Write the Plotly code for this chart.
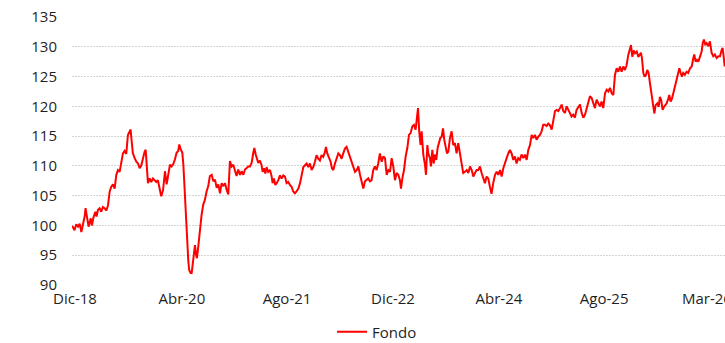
import plotly.graph_objects as go

# Fund value, base 100, weekly index from Dec-2018
semana = [
    0.2, 1.3, 2.4, 3.5, 4.7, 5.8, 6.9, 8.0, 9.1, 9.7, 10.6, 11.7, 13.1, 13.9, 14.8, 16.2, 17.0, 17.9, 19.0, 20.1,
    21.2, 22.3, 23.5, 24.6, 25.7, 26.8, 27.9, 29.0, 30.1, 31.2, 32.3, 33.4, 34.5, 35.6, 36.7, 37.8, 38.9, 39.6, 40.0, 41.1,
    42.3, 43.4, 44.5, 45.6, 46.7, 47.8, 48.9, 49.6, 50.2, 51.1, 52.2, 53.3, 54.4, 55.5, 56.6, 57.7, 58.8, 59.9, 61.1, 62.2,
    62.4, 63.5, 64.6, 65.7, 66.8, 67.9, 69.0, 70.1, 71.2, 71.9, 72.8, 73.9, 74.6, 75.2, 76.1, 76.8, 77.4, 77.9, 78.5, 79.4,
    80.1, 80.7, 81.6, 82.3, 83.0, 83.6, 84.5, 85.6, 86.7, 87.8, 88.9, 90.0, 91.1, 92.2, 93.4, 94.5, 95.6, 96.7, 97.8, 98.9,
    100.0, 101.1, 102.2, 103.3, 104.4, 105.5, 106.6, 107.7, 108.8, 109.9, 111.0, 112.2, 113.3, 114.4, 115.5, 116.6, 117.7, 118.8, 119.9, 121.0,
    121.7, 122.6, 123.4, 124.3,
    125.4, 126.5, 127.2, 128.1, 129.0, 129.8, 130.9, 132.1, 133.2, 133.8, 134.7, 135.6, 136.5, 137.6, 138.7, 139.8, 140.9, 142.0, 143.1, 144.2,
    145.3, 146.4, 147.5, 148.6, 149.7, 150.9, 152.0, 153.1, 154.2, 155.3, 156.4, 157.5, 158.6, 159.7, 160.8, 161.9, 163.0, 164.1, 165.2, 166.3,
    167.4, 168.5, 169.2, 170.1, 171.2, 172.3, 173.2, 174.1, 175.2, 176.3, 177.4, 178.5, 179.6, 180.7, 181.8, 182.9, 184.0, 185.1, 186.2, 187.4,
    188.5, 189.6, 190.7, 191.8, 192.9, 194.0, 195.1, 196.2, 197.3, 198.4, 199.5, 200.6, 201.7, 202.8, 203.9, 205.0, 206.2, 207.3, 208.4, 209.5,
    210.6, 211.7, 212.8, 213.9, 215.0, 216.1, 217.2, 218.3, 219.0, 219.9, 221.0, 222.1, 223.2, 224.3, 225.4, 226.5, 227.6, 228.7, 229.6, 230.3,
    231.1, 232.0, 232.7, 233.8, 234.9, 235.6, 236.5, 237.1, 238.2, 238.9, 239.8, 240.7, 241.5, 242.4, 243.3, 244.2, 245.1, 246.0, 246.9, 247.7,
    248.6, 249.5, 250.4,
    251.5, 252.6, 253.7, 254.8, 255.9, 257.0, 258.1, 259.2, 260.3, 261.4, 262.6, 263.7, 264.8, 265.9, 267.0, 268.1, 269.2, 270.3, 271.4, 272.5,
    273.6, 274.7, 275.8, 276.9, 278.0, 279.1, 280.2, 281.4, 282.5, 283.6, 284.7, 285.8, 286.9, 288.0, 289.1, 290.2, 291.3, 292.4, 293.5, 294.6,
    295.7, 296.8, 297.9, 299.0, 300.2, 301.3, 302.4, 303.5, 304.6, 305.7, 306.8, 307.9, 309.0, 310.1, 311.2, 312.3, 313.4,
    314.5, 315.6, 316.7, 317.9, 319.0, 320.1, 321.2, 322.3, 323.4, 324.5, 325.6, 326.7, 327.8, 328.9, 330.0, 331.1, 332.2, 333.3, 334.4, 335.5,
    336.7, 337.8, 338.9, 340.0, 341.1, 342.2, 343.3, 344.4, 345.5, 346.6, 347.7, 348.8, 349.9, 351.0, 352.1, 353.2, 354.4, 355.5, 356.6, 357.7,
    358.8, 359.9, 361.0, 362.1, 363.2, 364.3, 365.4, 366.5, 367.6, 368.7, 369.8, 370.9, 371.6, 372.5, 373.4, 374.3, 375.4, 376.5,
    377.6, 378.2, 378.9, 379.8, 380.7, 381.6, 382.4, 383.3, 384.2, 384.9, 385.5, 386.4, 387.1, 388.0, 389.1, 390.0, 390.8, 391.7, 392.6, 393.5,
    394.4, 395.3, 396.4, 397.0, 397.9, 398.8, 399.7, 400.8, 401.9, 403.0, 403.7, 404.6, 405.4, 406.3, 407.4, 408.5, 409.6, 410.8, 411.9, 413.0,
    413.6, 414.5, 415.4, 416.3, 417.4, 418.5, 419.2, 420.0, 420.9, 421.8, 422.9, 424.0, 425.1, 426.2, 427.3, 428.5, 429.6, 430.7, 431.8, 432.4,
    433.1, 433.8,
]

fondo = [
    99.9, 99.7, 99.2, 100.2, 99.8, 100.3, 98.9, 100.0, 101.5, 102.9, 101.7, 99.8, 101.2, 100.0, 101.2, 102.3, 101.5, 102.6, 102.9, 102.3,
    103.1, 102.9, 102.5, 103.4, 105.7, 106.5, 106.9, 106.2, 108.5, 109.3, 109.0, 111.0, 112.1, 112.5, 112.0, 115.2, 115.9, 116.1, 114.9, 112.1,
    111.3, 110.7, 110.4, 109.6, 110.1, 111.5, 112.4, 112.7, 109.6, 107.1, 107.9, 107.3, 107.9, 107.6, 107.3, 107.6, 105.9, 104.9, 105.9, 108.7,
    109.1, 106.9, 108.8, 110.2, 109.9, 110.3, 111.1, 112.2, 112.5, 113.6, 112.8, 112.2, 110.2, 106.9, 102.9, 97.3, 96.2, 93.9, 92.5, 92.0,
    92.0, 93.1, 95.6, 96.7, 95.1, 94.5, 96.5, 99.8, 101.8, 103.5, 104.3, 105.7, 106.6, 108.3, 108.5, 107.4, 107.7, 106.3, 106.9, 105.4,
    107.1, 106.6, 107.1, 106.0, 105.2, 110.8, 109.9, 110.2, 109.1, 108.3, 109.4, 108.5, 109.1, 108.5, 109.4, 109.7, 109.9, 109.9, 110.5, 112.2,
    113.0, 111.9, 111.3, 110.5,
    110.9, 110.1, 109.0, 109.6, 108.7, 109.8, 109.0, 109.3, 108.2, 107.1, 107.9, 106.8, 107.1, 107.6, 108.4, 107.9, 108.4, 108.2, 107.1, 107.3,
    106.8, 106.5, 105.7, 105.4, 105.7, 106.2, 107.1, 108.7, 109.8, 110.1, 110.4, 109.8, 110.4, 109.3, 109.8, 110.7, 111.8, 111.2, 110.9, 111.8,
    111.5, 112.3, 113.2, 112.1, 111.5, 110.7, 109.6, 109.3, 110.4, 111.2, 112.1, 111.8, 111.2, 112.1, 112.9, 113.2, 112.3, 111.8, 110.7, 109.6,
    109.0, 109.3, 109.9, 108.5, 107.1, 106.2, 107.4, 107.6, 107.9, 107.4, 107.6, 109.3, 109.9, 109.3, 110.4, 112.1, 110.7, 111.6, 111.3, 108.5,
    109.3, 109.0, 111.3, 109.9, 107.6, 108.8, 108.5, 107.6, 106.2, 107.9, 109.3, 111.6, 113.0, 115.2, 115.5, 116.6, 116.9, 116.1, 117.8, 119.7,
    115.8, 113.5, 115.8, 111.9, 110.2, 108.5, 113.5, 112.1, 111.3, 109.9, 112.7, 110.4, 111.9, 111.0, 113.0, 113.8, 114.7, 114.9, 116.3, 114.4,
    113.5, 112.1, 112.4,
    114.7, 115.8, 113.5, 113.8, 112.1, 113.8, 111.9, 110.2, 108.8, 109.0, 109.3, 108.8, 109.9, 109.3, 108.2, 108.8, 109.3, 109.3, 109.9, 108.8,
    107.9, 107.1, 108.2, 107.9, 106.5, 105.3, 107.1, 108.5, 109.0, 108.5, 109.3, 108.2, 109.6, 110.7, 111.3, 112.1, 112.7, 112.1, 111.0, 111.6,
    110.4, 111.3, 111.0, 111.9, 111.3, 111.9, 111.0, 112.7, 113.5, 115.2, 114.7, 115.2, 114.4, 114.9, 115.2, 115.8, 116.9,
    116.9, 116.7, 117.1, 116.8, 116.1, 117.8, 119.2, 119.4, 119.2, 119.7, 120.3, 119.2, 118.9, 120.0, 119.4, 118.6, 118.3, 118.6, 118.1, 119.4,
    120.0, 120.3, 118.9, 118.1, 118.6, 119.7, 121.1, 121.7, 121.4, 120.3, 119.7, 121.1, 120.6, 120.0, 120.8, 119.7, 122.2, 122.8, 122.5, 123.1,
    122.2, 121.9, 125.3, 126.4, 125.8, 126.7, 125.8, 126.7, 126.1, 126.9, 128.6, 130.0, 130.3, 128.3, 129.4, 128.9, 129.2, 128.3,
    128.7, 129.0, 128.1, 125.6, 125.0, 125.3, 126.1, 125.6, 123.9, 122.7, 120.8, 119.9, 118.8, 120.2, 120.5, 119.9, 121.6, 121.0, 119.4, 119.9,
    120.2, 120.5, 121.3, 121.9, 120.8, 121.3, 122.2, 123.3, 124.2, 125.3, 126.4, 125.6, 125.0, 125.6, 125.3, 125.8, 125.6, 126.4, 126.7, 128.1,
    128.7, 127.5, 127.8, 127.5, 128.4, 129.2, 130.6, 131.2, 130.4, 130.6, 130.1, 130.9, 129.0, 128.4, 128.7, 128.1, 128.4, 128.4, 129.5, 129.8,
    128.4, 126.7,
]

# Date labels on the horizontal axis and where they sit on the weekly index
etiquetas = ["Dic-18", "Abr-20", "Ago-21", "Dic-22", "Abr-24", "Ago-25", "Mar-26"]
posiciones = [2.7, 73.6, 143.4, 213.7, 284.0, 353.8, 422.0]

valores_y = [90, 95, 100, 105, 110, 115, 120, 125, 130, 135]

assert len(semana) == len(fondo)

FUENTE = "Open Sans"
TEXTO = "#1f1f1f"

fig = go.Figure()
fig.add_trace(go.Scatter(
    x=semana, y=fondo, mode="lines", name="Fondo",
    line=dict(color="#ff0000", width=2),
))

fig.update_layout(
    width=725, height=343,
    margin=dict(l=72, r=0, t=17, b=58, autoexpand=False),
    paper_bgcolor="white", plot_bgcolor="white",
    font=dict(family=FUENTE, size=15, color=TEXTO),
    showlegend=True,
    legend=dict(
        orientation="h", xref="container", x=0.458, xanchor="left",
        yref="container", y=0.032, yanchor="middle",
        font=dict(family=FUENTE, size=15, color=TEXTO),
        bgcolor="rgba(0,0,0,0)", borderwidth=0,
    ),
)
fig.update_xaxes(
    range=[0.7, 434.0], tickmode="array", tickvals=posiciones, ticktext=etiquetas,
    showgrid=False, zeroline=False, showline=False, ticks="", automargin=False,
    ticklabeloverflow="allow",
    tickfont=dict(family=FUENTE, size=15, color=TEXTO), ticklabelstandoff=3,
)
fig.update_yaxes(
    range=[90, 135], tickmode="array", tickvals=valores_y,
    showgrid=True, gridcolor="#d4d4d4", gridwidth=1, griddash="2px,1px",
    zeroline=False, showline=False, ticks="", automargin=False,
    tickfont=dict(family=FUENTE, size=15, color=TEXTO), ticklabelstandoff=14,
)

fig.write_html("out.html")
